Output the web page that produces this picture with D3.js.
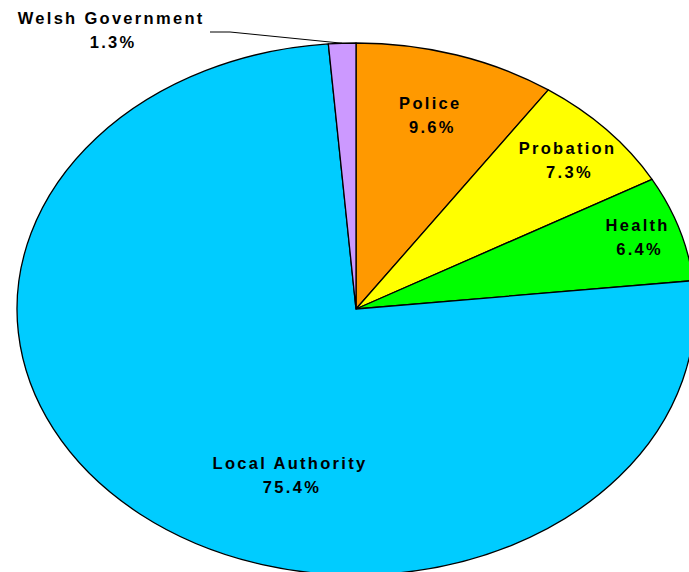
<!DOCTYPE html>
<html><head><meta charset="utf-8">
<script src="https://cdn.jsdelivr.net/npm/d3@7"></script>
<style>
html,body{margin:0;padding:0;background:#fff;}
svg{display:block;}
text{font-family:"Liberation Sans",Arial,sans-serif;font-weight:bold;font-size:16.5px;fill:#000;letter-spacing:2.3px;}
</style></head>
<body>
<script>
const categories = ["Police", "Probation", "Health", "Local Authority", "Welsh Government"];
const values = [9.6, 7.3, 6.4, 75.4, 1.3];
const valueLabels = ["9.6%", "7.3%", "6.4%", "75.4%", "1.3%"];
const colors = ["#FF9900", "#FFFF00", "#00FF00", "#00CCFF", "#CC99FF"];

const W = 689, H = 572;
const cx = 356, cy = 309, rx = 339, ry = 266;
// label placement: [radius fraction, angle in degrees from top] (null = outside with leader)
const labelPlace = [[0.76, 16.5], [0.835, 48], [0.87, 72], [0.655, 197.6], null];
const LS = 2.3;

const svg = d3.select("body").append("svg").attr("width", W).attr("height", H);

const pie = d3.pie().sort(null).value(d => d)(values);
const arc = d3.arc().innerRadius(0).outerRadius(ry);

const g = svg.append("g").attr("transform", `translate(${cx},${cy}) scale(${rx/ry},1)`);
g.selectAll("path").data(pie).enter().append("path")
  .attr("d", arc)
  .attr("fill", (d,i) => colors[i])
  .attr("stroke", "#000")
  .attr("stroke-width", 1.3)
  .attr("vector-effect", "non-scaling-stroke")
  .attr("stroke-linejoin", "round");

function pt(frac, deg) {
  const a = deg * Math.PI / 180;
  return [cx + rx * frac * Math.sin(a), cy - ry * frac * Math.cos(a)];
}

pie.forEach((d, i) => {
  let x, y;
  if (labelPlace[i]) {
    [x, y] = pt(labelPlace[i][0], labelPlace[i][1]);
  } else {
    x = 110; y = 30;
  }
  x += LS / 2;
  const t = svg.append("text").attr("text-anchor", "middle");
  t.append("tspan").attr("x", x).attr("y", y - 6).text(categories[i]);
  t.append("tspan").attr("x", x + 2).attr("y", y + 18).text(valueLabels[i]);
});

// leader line for Welsh Government
const wg = pie[4];
const mid = (wg.startAngle + wg.endAngle) / 2 * 180 / Math.PI;
const edge = pt(1.0, mid);
svg.append("path")
  .attr("d", `M210,32 L230,32 L${edge[0]},${edge[1]}`)
  .attr("fill", "none").attr("stroke", "#000").attr("stroke-width", 1);
</script>
</body></html>
